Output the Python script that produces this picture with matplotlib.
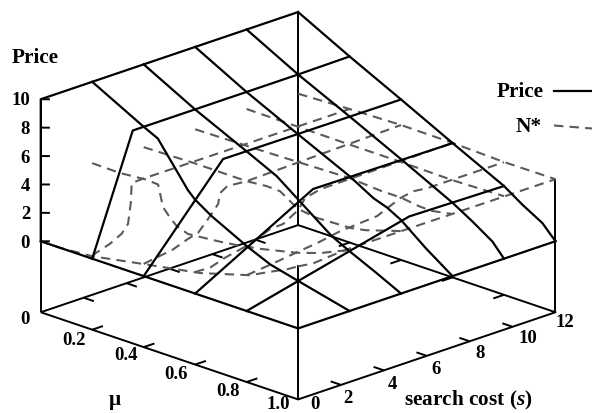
import matplotlib
matplotlib.use('Agg')
import matplotlib.pyplot as plt
from matplotlib.lines import Line2D

# price surface, lines at fixed mu: (s, price)
price_mu_levels = [0.0, 0.2, 0.4, 0.6, 0.8, 1.0]
price_mu_s = [[0, 0, 12], [0, 1.89, 9.6, 12], [0, 3.7, 12], [0, 5.5, 12], [0, 7.58, 12], [0, 12]]
price_mu_z = [[0, 10, 10], [0, 8.06, 8.06, 8.1], [0, 6.35, 6.3], [0, 4.55, 4.45], [0, 2.78, 2.66], [0, 0]]

# price surface, lines at fixed s: (mu, price)
price_s_levels = [0, 2.4, 4.8, 7.2, 9.6, 12]
price_s_mu = [[0, 1],
              [0, .2, .255, .372, .4, .464, .6, .691, .8, 1],
              [0, .2, .4, .517, .6, .73, .8, .9, 1],
              [0, .2, .4, .6, .693, .745, .8, .896, 1],
              [0, .2, .4, .6, .8, .878, .955, 1],
              [0, .2, .4, .6, .8, .872, .949, 1]]
price_s_z = [[0, 0],
             [10, 8.06, 7.57, 4.65, 4.15, 3.39, 2.12, 1.39, .89, 0],
             [10, 8.05, 6.33, 5.3, 4.17, 2.4, 1.75, .9, 0],
             [10, 8.05, 6.3, 4.58, 3.6, 3.27, 2.72, 1.33, 0],
             [10, 8.06, 6.33, 4.55, 2.71, 1.86, .93, 0],
             [10, 8.1, 6.3, 4.46, 2.66, 1.78, .97, 0]]

# N* surface, lines at fixed mu
nstar_mu_levels = [0.2, 0.4, 0.6, 0.8, 1.0]
nstar_mu_s = [[0, .2, .82, 1.37, 1.67, 1.8, 1.84, 2.3, 12],
              [0, 1.37, 2.06, 2.53, 3, 3.47, 3.56, 3.89, 4.8, 12],
              [0, .7, 1.39, 1.96, 2.56, 3.49, 4.1, 4.8, 5.12, 5.83, 12],
              [0, .95, 1.66, 2.35, 3.29, 4.36, 5.16, 6.08, 7.16, 7.76, 8.42, 12],
              [0, .7, 1.82, 2.42, 12]]
nstar_mu_z = [[.17, .33, .62, 1.05, 1.6, 3.02, 4.38, 4.42, 4.4],
              [.86, 1.18, 1.56, 1.74, 2.48, 3.3, 4.02, 4.34, 4.23, 4.5],
              [1.52, 1.47, 1.81, 1.99, 2.18, 2.76, 2.8, 3.42, 4.09, 4.36, 4.47],
              [2.52, 2.67, 2.8, 2.94, 3.1, 3.39, 3.47, 3.57, 4.28, 4.46, 4.34, 4.34],
              [4.37, 4.22, 4.36, 4.4, 4.37]]

# N* surface, lines at fixed s
nstar_s_levels = [0, 2.4, 4.8, 7.2, 9.6, 12]
nstar_s_mu = [[0, .074, .2, .397, .619, .813, .9, .957, 1],
              [0, .107, .208, .256, .275, .302, .328, .372, .43, .497, .561, .659, .795, .886, 1],
              [0, .2, .4, .478, .53, .561, .6, .673, .725, .802, .861, 1],
              [0, .3, .6, .72, .8, .87, .92, 1],
              [0, .4, .6, .8, 1],
              [0, .2, .4, .6, .8, 1]]
nstar_s_z = [[0, 0, .17, .84, 1.56, 2.6, 3.4, 3.9, 4.37],
             [4.27, 4.24, 4.4, 4.34, 2.87, 2.29, 1.86, 1.57, 1.67, 1.79, 1.95, 2.27, 2.84, 3.38, 4.3],
             [4.17, 4.25, 4.23, 4.36, 4.32, 3.95, 3.5, 3.32, 3.36, 3.41, 3.61, 4.4],
             [4.2, 4.3, 4.45, 4.3, 4.3, 4.12, 4.1, 4.37],
             [4.4, 4.35, 4.35, 4.3, 4.4],
             [4.25, 4.4, 4.5, 4.47, 4.35, 4.37]]

mu_ticks = [0.2, 0.4, 0.6, 0.8]
s_ticks = [2, 4, 6, 8, 10]
z_ticks = [0, 2, 4, 6, 8, 10]
z_floor = -5
front_top = 4.44
right_top = 4.4

W, H = 592, 414
plt.rcParams['font.family'] = 'Liberation Serif'
plt.rcParams['font.weight'] = 'bold'
plt.rcParams['mathtext.fontset'] = 'custom'
plt.rcParams['mathtext.bfit'] = 'Liberation Serif:italic:bold'
plt.rcParams['mathtext.rm'] = 'Liberation Serif:bold'

fig = plt.figure(figsize=(W / 100, H / 100), dpi=100)
# big square axes so the box sits where it should, lines are not clipped by it
A = 600
ax = fig.add_axes([-10 / W, -100.85 / H, A / W, A / H], projection='3d', proj_type='ortho')
ax.set_axis_off()
ax.patch.set_alpha(0)
ax.computed_zorder = False
ax.view_init(elev=19.8, azim=-45)
ax.set_xlim(0, 1, view_margin=0)
ax.set_ylim(0, 12, view_margin=0)
ax.set_zlim(z_floor, 10, view_margin=0)
ax.set_box_aspect((1, 1, 0.622), zoom=0.9098)

BORDER = dict(color='black', lw=1.4, solid_capstyle='butt', clip_on=False)
SOLID = dict(color='black', lw=1.6, clip_on=False)
DASH_STYLE = (0, (4.5, 3))
DASH = dict(color='#5a5a5a', lw=1.5, linestyle=DASH_STYLE, clip_on=False)

# floor and verticals
ax.plot([0, 1, 1, 0, 0], [0, 0, 12, 12, 0], [z_floor] * 5, **BORDER)
ax.plot([0, 0], [0, 0], [z_floor, 10], **BORDER)
ax.plot([0, 0], [12, 12], [z_floor, 10], **BORDER)
ax.plot([1, 1], [0, 0], [z_floor, front_top], **BORDER)
ax.plot([1, 1], [12, 12], [z_floor, right_top], **BORDER)

# ticks
for m in mu_ticks:
    ax.plot([m, m], [0, 0.5], [z_floor, z_floor], **BORDER)
    ax.plot([m, m], [12, 11.5], [z_floor, z_floor], **BORDER)
for v in s_ticks:
    ax.plot([1, 0.96], [v, v], [z_floor, z_floor], **BORDER)
    ax.plot([0, 0.04], [v, v], [z_floor, z_floor], **BORDER)
for v in z_ticks:
    ax.plot([0, 0.018], [0, 0.21], [v, v], **BORDER)

# dashed surface first, price on top
for m, ss, zz in zip(nstar_mu_levels, nstar_mu_s, nstar_mu_z):
    ax.plot([m] * len(ss), ss, zz, **DASH)
for v, mm, zz in zip(nstar_s_levels, nstar_s_mu, nstar_s_z):
    ax.plot(mm, [v] * len(mm), zz, **DASH)
for m, ss, zz in zip(price_mu_levels, price_mu_s, price_mu_z):
    ax.plot([m] * len(ss), ss, zz, **SOLID)
for v, mm, zz in zip(price_s_levels, price_s_mu, price_s_z):
    ax.plot(mm, [v] * len(mm), zz, **SOLID)


def label(x, y, txt, size=13.5, ha='center'):
    fig.text(x / W, 1 - y / H, txt, fontsize=size, ha=ha, va='center', color='black')


label(35.5, 58, 'Price', 15.3)
for v, y in zip(z_ticks, [243.5, 214.5, 186.5, 158.5, 129.5, 100.5]):
    label(30, y, str(v), ha='right')
label(29.5, 319.5, '0', ha='right')
for txt, x, y in zip(['0.2', '0.4', '0.6', '0.8', '1.0'],
                     [74, 125.7, 175.7, 228, 278], [340.5, 356, 374.5, 392, 405]):
    label(x, y, txt)
for txt, x, y in zip(['0', '2', '4', '6', '8', '10', '12'],
                     [314.7, 348, 392, 436, 479.7, 528, 565], [405, 398.5, 384.5, 369.5, 353.5, 338.5, 322.5]):
    label(x, y, txt)
label(115, 400, 'μ', 15.3)
label(468.5, 400, r'search cost ($\mathbfit{s}$)', 15.3)

# legend drawn by hand like gnuplot does
label(544, 92, 'Price', 15.3, ha='right')
label(542, 127, 'N*', 15.3, ha='right')
fig.add_artist(Line2D([554 / W, 592 / W], [1 - 92 / H, 1 - 92 / H], color='black', lw=1.6))
fig.add_artist(Line2D([554 / W, 592 / W], [1 - 126.5 / H, 1 - 129.5 / H], color='#5a5a5a', lw=1.5,
                      linestyle=DASH_STYLE))

fig.savefig('out.png', dpi=100)
